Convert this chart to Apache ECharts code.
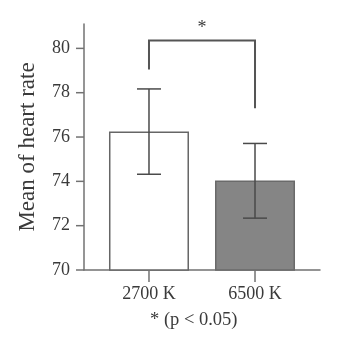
<!DOCTYPE html>
<html>
<head>
<meta charset="utf-8">
<script src="https://cdn.jsdelivr.net/npm/echarts@6/dist/echarts.min.js"></script>
<style>
  html, body { margin: 0; padding: 0; background: #fff; }
  #main { width: 342px; height: 347px; }
</style>
</head>
<body>
<div id="main"></div>
<script>
// data
var categories = ['2700 K', '6500 K'];
var means = [76.25, 74.04];
var errLow = [74.32, 72.34];
var errHigh = [78.17, 75.71];
var yTicks = [70, 72, 74, 76, 78, 80];
// significance bracket: [left cat, right cat, top, left end, right end]
var bracket = [[0, 1, 80.36, 79.05, 77.3]];
var sigMark = '*';
var footnote = '* (p < 0.05)';

var font = '"Liberation Serif", "DejaVu Serif", serif';
var axisGray = '#727272';
var textCol = '#3a3a3a';
var xMin = -0.613, xMax = 1.613;

var myChart = echarts.init(document.getElementById('main'));

var catIdx = categories.map(function (c, i) { return i; });

var footnoteEl = {
  type: 'text',
  left: 150,
  top: 311,
  style: { text: footnote, fill: textCol, font: '18.5px ' + font }
};

var option = {
  animation: false,
  grid: { left: 84, right: 22, top: 24, bottom: 77 },
  xAxis: {
    type: 'value',
    min: xMin,
    max: xMax,
    splitLine: { show: false },
    axisLine: { show: true, onZero: false, lineStyle: { color: axisGray, width: 1.5 } },
    axisTick: { show: false },
    axisLabel: {
      customValues: catIdx,
      formatter: function (v) { return categories[Math.round(v)]; },
      margin: 15,
      color: textCol,
      fontFamily: font,
      fontSize: 18
    }
  },
  yAxis: {
    type: 'value',
    min: 70,
    max: 81.1,
    name: 'Mean of heart rate',
    nameLocation: 'middle',
    nameRotate: 90,
    nameGap: 45,
    nameTextStyle: { color: textCol, fontFamily: font, fontSize: 23 },
    splitLine: { show: false },
    axisLine: { show: true, onZero: false, lineStyle: { color: axisGray, width: 1.5 } },
    axisTick: { show: false },
    axisLabel: {
      customValues: yTicks,
      margin: 14,
      color: textCol,
      fontFamily: font,
      fontSize: 18
    }
  },
  graphic: [footnoteEl],
  series: [
    {
      type: 'bar',
      barWidth: 80,
      z: 1,
      data: means.map(function (m, i) {
        return {
          value: [i, m],
          itemStyle: i === 0
            ? { color: '#fff', borderColor: '#666', borderWidth: 1.5 }
            : { color: '#858585', borderColor: '#6a6a6a', borderWidth: 1.5 }
        };
      })
    },
    {
      // error bars
      type: 'custom',
      z: 3,
      data: catIdx.map(function (i) { return [i, errLow[i], errHigh[i]]; }),
      renderItem: function (params, api) {
        var lo = api.coord([api.value(0), api.value(1)]);
        var hi = api.coord([api.value(0), api.value(2)]);
        var half = 12;
        var st = { stroke: '#4a4a4a', lineWidth: 1.5 };
        return {
          type: 'group',
          children: [
            { type: 'line', shape: { x1: lo[0], y1: lo[1], x2: hi[0], y2: hi[1] }, style: st },
            { type: 'line', shape: { x1: hi[0] - half, y1: hi[1], x2: hi[0] + half, y2: hi[1] }, style: st },
            { type: 'line', shape: { x1: lo[0] - half, y1: lo[1], x2: lo[0] + half, y2: lo[1] }, style: st }
          ]
        };
      }
    },
    {
      // significance bracket
      type: 'custom',
      z: 3,
      clip: false,
      data: bracket,
      renderItem: function (params, api) {
        var l = api.coord([api.value(0), api.value(2)]);
        var r = api.coord([api.value(1), api.value(2)]);
        var le = api.coord([api.value(0), api.value(3)]);
        var re = api.coord([api.value(1), api.value(4)]);
        return {
          type: 'group',
          children: [
            {
              type: 'polyline',
              shape: { points: [[le[0], le[1]], [l[0], l[1]], [r[0], r[1]], [re[0], re[1]]] },
              style: { stroke: '#555', lineWidth: 2, fill: null }
            },
            {
              type: 'text',
              style: {
                text: sigMark, x: (l[0] + r[0]) / 2, y: l[1] - 12,
                align: 'center', verticalAlign: 'middle',
                fill: textCol, font: '18px ' + font
              }
            }
          ]
        };
      }
    }
  ]
};

myChart.setOption(option);

// outward axis ticks, placed through the chart's own scales
var tickSt = { stroke: axisGray, lineWidth: 1.5 };
var tickEls = [footnoteEl];
yTicks.forEach(function (t) {
  var p = myChart.convertToPixel({ gridIndex: 0 }, [xMin, t]);
  tickEls.push({ type: 'line', z: 10, shape: { x1: p[0] - 8, y1: p[1], x2: p[0], y2: p[1] }, style: tickSt });
});
catIdx.forEach(function (i) {
  var p = myChart.convertToPixel({ gridIndex: 0 }, [i, 70]);
  tickEls.push({ type: 'line', z: 10, shape: { x1: p[0], y1: p[1], x2: p[0], y2: p[1] + 12 }, style: tickSt });
});
myChart.setOption({ graphic: tickEls });

window.addEventListener('resize', function () { myChart.resize(); });
</script>
</body>
</html>
